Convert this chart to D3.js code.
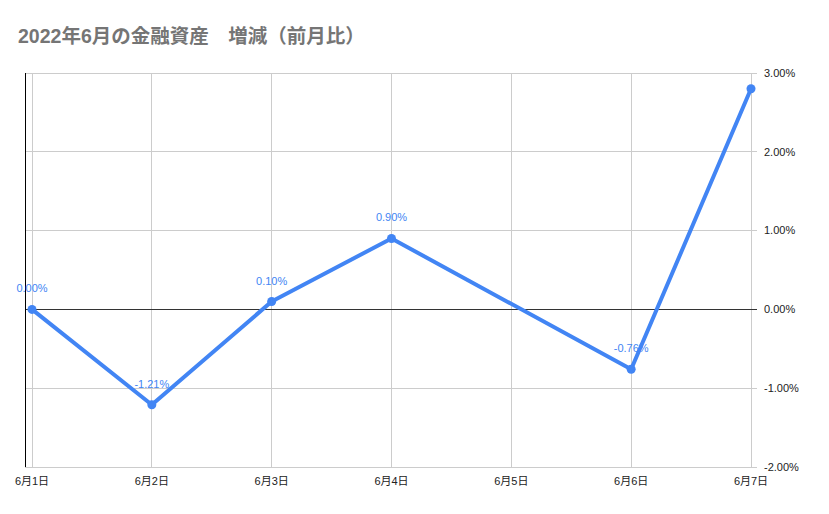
<!DOCTYPE html>
<html><head><meta charset="utf-8">
<script src="https://cdn.jsdelivr.net/npm/d3@7"></script>
<style>
body{margin:0;background:#fff;}
svg{display:block;font-family:"Liberation Sans",Arial,"Noto Sans CJK JP",sans-serif;}
</style></head>
<body><svg id="c" width="829" height="514"></svg>
<script>
const title = "2022年6月の金融資産　増減（前月比）";
const categories = ["6月1日","6月2日","6月3日","6月4日","6月5日","6月6日","6月7日"];
const values = [0.00, -1.21, 0.10, 0.90, null, -0.76, 2.80];
const showLabel = [true, true, true, true, false, true, false];
const yTicks = [-2, -1, 0, 1, 2, 3];

const svg = d3.select("#c");
const x = d3.scalePoint().domain(categories).range([32, 751]);
const y = d3.scaleLinear().domain([-2, 3]).range([467, 73]);
const fmt = v => v.toFixed(2) + "%";

svg.append("text").attr("x", 18).attr("y", 43)
  .attr("font-size", 19.5).attr("font-weight", "bold").attr("fill", "#757575")
  .text(title);

// horizontal gridlines
svg.append("g").selectAll("line").data(yTicks).join("line")
  .attr("x1", 25).attr("x2", 757)
  .attr("y1", d => y(d)).attr("y2", d => y(d))
  .attr("stroke", "#ccc").attr("stroke-width", 1)
  .attr("shape-rendering", "crispEdges");
// vertical gridlines
svg.append("g").selectAll("line").data(categories).join("line")
  .attr("x1", d => x(d)).attr("x2", d => x(d))
  .attr("y1", y(3)).attr("y2", y(-2))
  .attr("stroke", "#ccc").attr("stroke-width", 1)
  .attr("shape-rendering", "crispEdges");
// zero line on top
svg.append("line").attr("x1", 25).attr("x2", 757)
  .attr("y1", y(0)).attr("y2", y(0)).attr("stroke", "#333")
  .attr("shape-rendering", "crispEdges");
// left axis line
svg.append("line").attr("x1", 25).attr("x2", 25)
  .attr("y1", y(3)).attr("y2", y(-2)).attr("stroke", "#000")
  .attr("shape-rendering", "crispEdges");

// right axis labels
svg.append("g").selectAll("text").data(yTicks).join("text")
  .attr("x", 764).attr("y", d => y(d)).attr("dy", "0.35em")
  .attr("font-size", 11).attr("fill", "#222")
  .text(d => fmt(d));

// x axis labels
svg.append("g").selectAll("text").data(categories).join("text")
  .attr("x", d => x(d)).attr("y", 485).attr("text-anchor", "middle")
  .attr("font-size", 11).attr("fill", "#222")
  .text(d => d);

const pts = categories.map((c, i) => ({c, v: values[i], s: showLabel[i]})).filter(d => d.v !== null);
const line = d3.line().x(d => x(d.c)).y(d => y(d.v));
svg.append("path").datum(pts).attr("d", line)
  .attr("fill", "none").attr("stroke", "#4285f4").attr("stroke-width", 4)
  .attr("stroke-linejoin", "round");
svg.append("g").selectAll("circle").data(pts).join("circle")
  .attr("cx", d => x(d.c)).attr("cy", d => y(d.v)).attr("r", 4.5)
  .attr("fill", "#4285f4");
svg.append("g").selectAll("text").data(pts.filter(d => d.s)).join("text")
  .attr("x", d => x(d.c)).attr("y", d => y(d.v) - 17)
  .attr("text-anchor", "middle").attr("font-size", 11).attr("fill", "#4285f4")
  .text(d => fmt(d.v));
</script></body></html>
